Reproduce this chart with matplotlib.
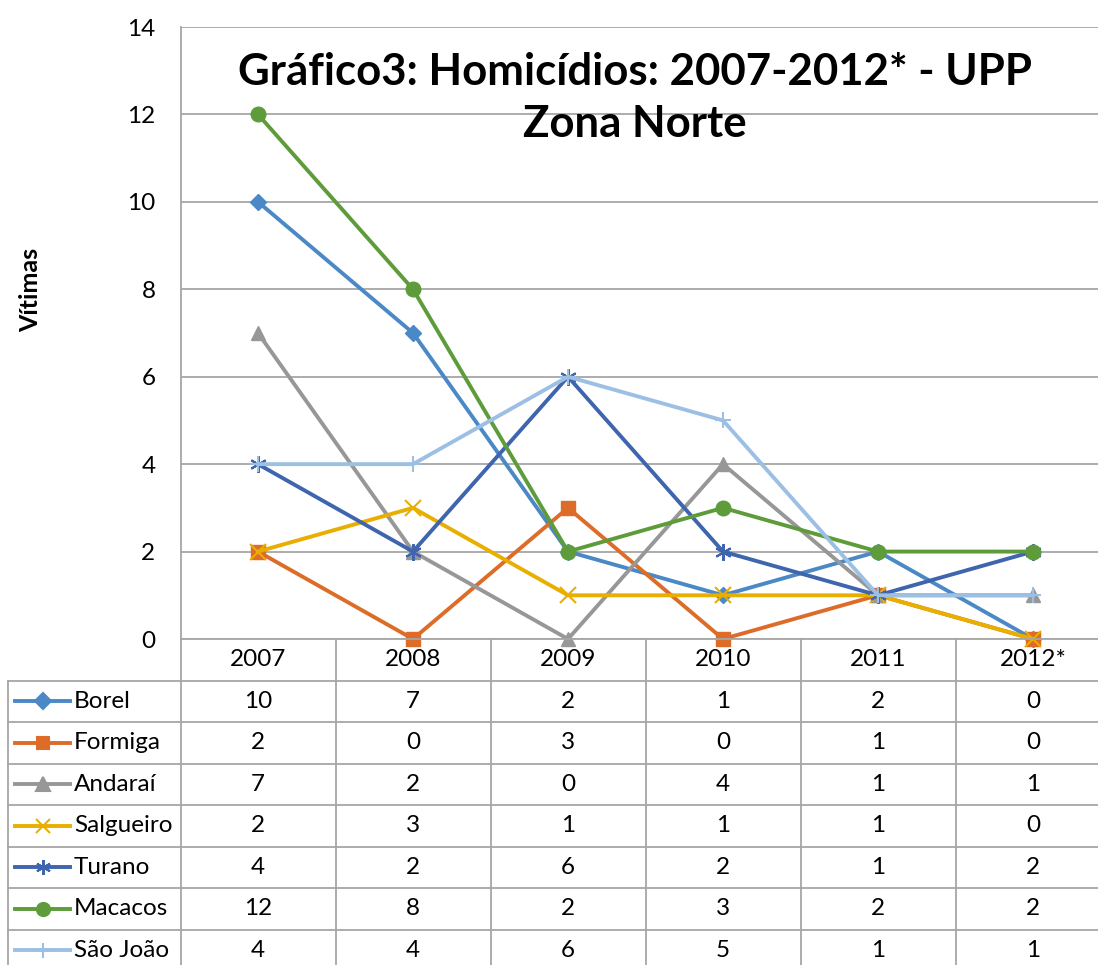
import numpy as np
import matplotlib
matplotlib.use("Agg")
import matplotlib.pyplot as plt

plt.rcParams['font.family'] = ['Lato', 'DejaVu Sans']

# data
years = ['2007', '2008', '2009', '2010', '2011', '2012*']
series = ['Borel', 'Formiga', 'Andaraí', 'Salgueiro', 'Turano', 'Macacos', 'São João']
borel = [10, 7, 2, 1, 2, 0]
formiga = [2, 0, 3, 0, 1, 0]
andarai = [7, 2, 0, 4, 1, 1]
salgueiro = [2, 3, 1, 1, 1, 0]
turano = [4, 2, 6, 2, 1, 2]
macacos = [12, 8, 2, 3, 2, 2]
sao_joao = [4, 4, 6, 5, 1, 1]
values = [borel, formiga, andarai, salgueiro, turano, macacos, sao_joao]

colors = ['#4A89C5', '#DD6C28', '#979797', '#E8AE00', '#3E65AE', '#5E9B3A', '#9CBFE4']
markers = ['D', 's', '^', 'x', (6, 2, 0), 'o', '+']
msizes = [8.5, 9.5, 10.5, 11, 12, 10.5, 12]

FS = 17.5

W, H = 1098, 965
fig = plt.figure(figsize=(W / 100, H / 100), dpi=100)

# plot area (pixel geometry of the reference)
x0, x1 = 180.5, 1110.5
y_top, y_zero = 27, 639
ax = fig.add_axes([x0 / W, (H - y_zero) / H, (x1 - x0) / W, (y_zero - y_top) / H])
ax.set_xlim(-0.5, 5.5)
ax.set_ylim(0, 14)
ax.set_yticks(range(0, 15, 2))
ax.set_xticks([])
ax.yaxis.grid(True, color='#A6A6A6', lw=1.3)
ax.set_axisbelow(True)
for s in ['top', 'right', 'bottom']:
    ax.spines[s].set_visible(False)
ax.spines['left'].set_color('#A6A6A6')
ax.spines['left'].set_linewidth(1.3)
ax.tick_params(axis='y', length=0, labelsize=FS, pad=18)

x = np.arange(len(years))
for vals, c, m, ms in zip(values, colors, markers, msizes):
    ax.plot(x, vals, color=c, lw=2.8, marker=m, ms=ms, mew=1.5 if m in ('x', '+') or isinstance(m, tuple) else 1,
            mfc=c, mec=c, clip_on=False, zorder=3)

ax.set_ylabel('Vítimas', fontsize=18, fontweight='bold')
ax.yaxis.set_label_coords(-(x0 - 42) / (x1 - x0), 0.57)
fig.text(635 / W, 1 - 98 / H, 'Gráfico3: Homicídios: 2007-2012* - UPP\nZona Norte',
         ha='center', va='center', fontsize=31.5, fontweight='bold', linespacing=1.35)

# data table under the plot
row_h = 41.5
n_rows = len(series) + 1
tab_bottom = y_zero + row_h * n_rows
tax = fig.add_axes([x0 / W, (H - tab_bottom) / H, (x1 - x0) / W, (tab_bottom - y_zero) / H])
tax.set_xlim(-0.5, 5.5)
tax.set_ylim(n_rows, 0)
tax.axis('off')
grid_c = '#A6A6A6'
left_edge = -0.5 - (x0 - 8) / 155.0
# vertical lines
for i in range(len(years) + 1):
    tax.plot([i - 0.5, i - 0.5], [0, n_rows], color=grid_c, lw=1.3, clip_on=False)
tax.plot([left_edge, left_edge], [1, n_rows], color=grid_c, lw=1.3, clip_on=False)
# horizontal lines
for r in range(1, n_rows + 1):
    tax.plot([left_edge, 5.5], [r, r], color=grid_c, lw=1.3, clip_on=False)
tax.plot([-0.5, 5.5], [0, 0], color=grid_c, lw=1.3, clip_on=False)

for j, yr in enumerate(years):
    tax.text(j, 0.5, yr, ha='center', va='center', fontsize=FS)
for i, (name, vals, c, m, ms) in enumerate(zip(series, values, colors, markers, msizes)):
    r = i + 1.5
    lx0 = left_edge + 7 / 155.0
    lx1 = left_edge + 62 / 155.0
    tax.plot([lx0, lx1], [r, r], color=c, lw=2.8, clip_on=False)
    tax.plot([(lx0 + lx1) / 2], [r], color=c, marker=m, ms=ms * 0.9, mec=c, mfc=c,
             mew=1.5, clip_on=False)
    tax.text(left_edge + 66 / 155.0, r, name, ha='left', va='center', fontsize=FS)
    for j, v in enumerate(vals):
        tax.text(j, r, str(v), ha='center', va='center', fontsize=FS)

fig.savefig('out.png', dpi=100)
